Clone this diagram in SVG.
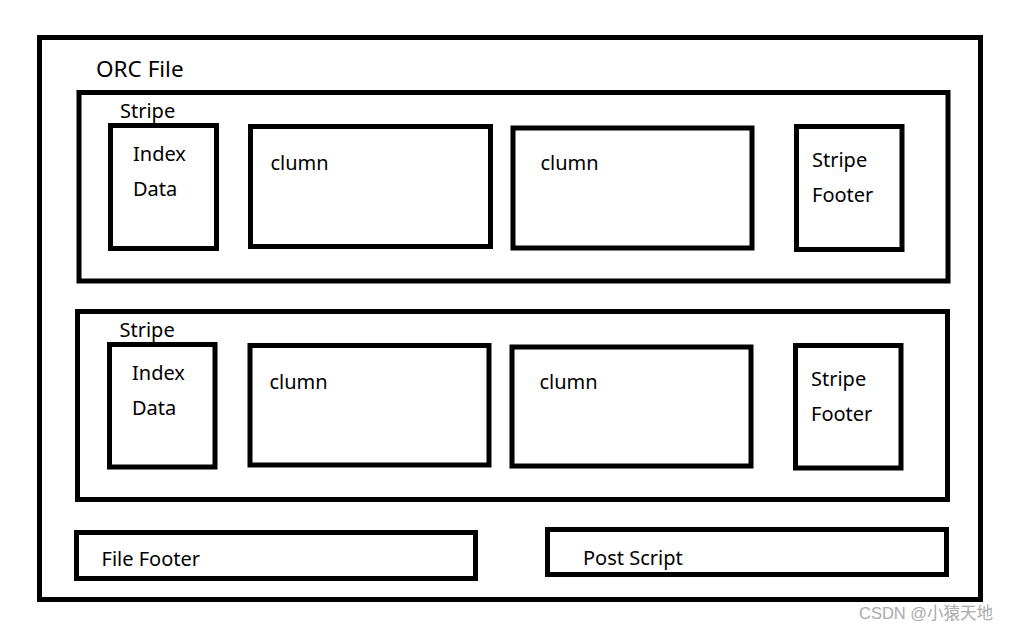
<svg xmlns="http://www.w3.org/2000/svg" width="1012" height="631" viewBox="0 0 1012 631">
<style>
.box{fill:none;stroke:#000;stroke-width:5}
.t{font-family:"Noto Sans","Liberation Sans",sans-serif;font-size:20px;fill:#000}
.big{font-size:22.5px}
.wm{font-family:"Liberation Sans","Noto Sans CJK SC",sans-serif;font-size:16.5px;fill:#aaa}
</style>
<rect width="1012" height="631" fill="#fff"/>
<g id="orc-file">
<rect class="box" x="39.5" y="37.5" width="941" height="562"/>
<text class="t big" x="96" y="77">ORC File</text>
</g>
<g id="stripe1">
<rect class="box" x="79" y="92.5" width="869" height="188.5"/>
<text class="t" x="120" y="118">Stripe</text>
</g>
<g id="index1">
<rect class="box" x="110.5" y="125.5" width="106" height="123"/>
<text class="t" x="133" y="161">Index</text>
<text class="t" x="133" y="196">Data</text>
</g>
<g id="clumn1a">
<rect class="box" x="250.5" y="126.5" width="240" height="120"/>
<text class="t" x="270.5" y="170">clumn</text>
</g>
<g id="clumn1b">
<rect class="box" x="513" y="128" width="239" height="120"/>
<text class="t" x="540.5" y="170">clumn</text>
</g>
<g id="footer1">
<rect class="box" x="796.5" y="126.5" width="105.5" height="123"/>
<text class="t" x="812" y="167">Stripe</text>
<text class="t" x="812" y="202">Footer</text>
</g>
<g id="stripe2">
<rect class="box" x="77.5" y="311.5" width="870" height="188"/>
<text class="t" x="119.5" y="337">Stripe</text>
</g>
<g id="index2">
<rect class="box" x="109.5" y="344.5" width="105.5" height="122.5"/>
<text class="t" x="132" y="380">Index</text>
<text class="t" x="132" y="415">Data</text>
</g>
<g id="clumn2a">
<rect class="box" x="250" y="345.5" width="239" height="119.5"/>
<text class="t" x="269.5" y="389">clumn</text>
</g>
<g id="clumn2b">
<rect class="box" x="512" y="347" width="239" height="119"/>
<text class="t" x="539.5" y="389">clumn</text>
</g>
<g id="footer2">
<rect class="box" x="795.5" y="345.5" width="105.5" height="122.5"/>
<text class="t" x="811" y="386">Stripe</text>
<text class="t" x="811" y="421">Footer</text>
</g>
<g id="file-footer">
<rect class="box" x="76.5" y="532.5" width="399" height="46"/>
<text class="t" x="101.5" y="566">File Footer</text>
</g>
<g id="post-script">
<rect class="box" x="547.5" y="529.5" width="399" height="45"/>
<text class="t" x="583" y="564.5">Post Script</text>
</g>
<g id="connectors"></g>
<text class="wm" x="859" y="619">CSDN @小猿天地</text>
</svg>
